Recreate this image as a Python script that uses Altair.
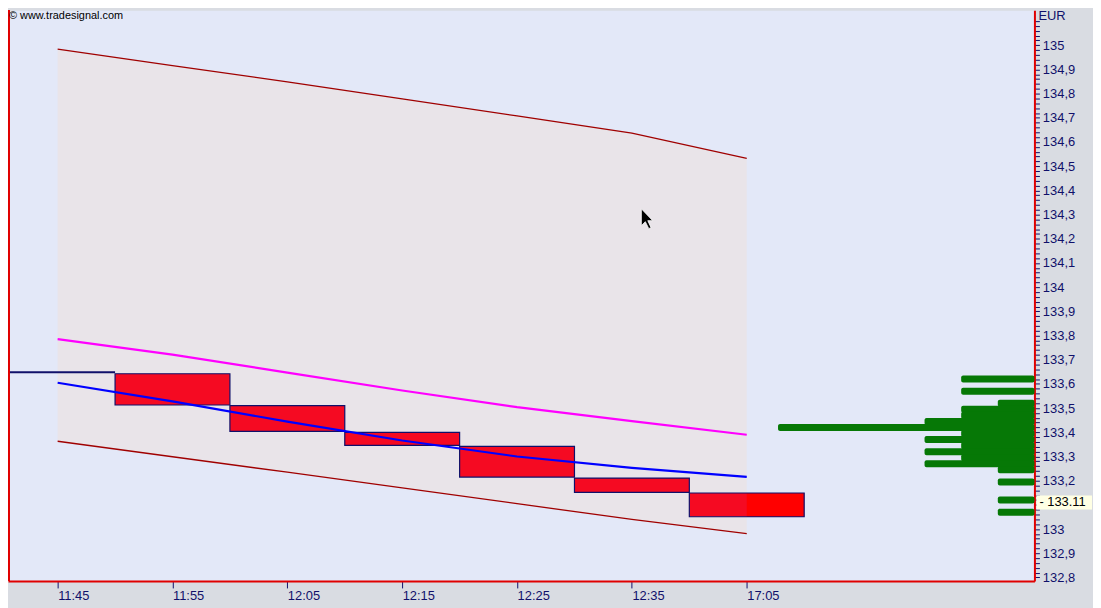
import json
import altair as alt
import pandas as pd

# ---------------- data ----------------
time_labels = ["11:45", "11:55", "12:05", "12:15", "12:25", "12:35", "17:05"]
bar_idx = [0, 1, 2, 3, 4, 5, 6]

upper_band = [134.984, 134.916, 134.849, 134.778, 134.708, 134.637, 134.532]
lower_band = [133.363, 133.299, 133.235, 133.170, 133.105, 133.040, 132.981]
magenta_line = [133.785, 133.721, 133.647, 133.573, 133.504, 133.446, 133.390]
blue_line = [133.605, 133.528, 133.444, 133.366, 133.300, 133.253, 133.216]

box_open = [133.648, 133.642, 133.510, 133.400, 133.342, 133.211, 133.149]
box_close = [133.648, 133.513, 133.404, 133.346, 133.215, 133.152, 133.051]

vol_price = [133.620, 133.570, 133.520, 133.495, 133.470, 133.445, 133.420,
             133.395, 133.370, 133.345, 133.320, 133.295, 133.270, 133.245,
             133.195, 133.120, 133.070]
vol_units = [2, 2, 1, 2, 2, 3, 7, 2, 3, 2, 3, 2, 3, 1, 1, 1, 1]

last_price = [133.11]
last_label = ["- 133.11"]

cursor_bar = [5.134]
cursor_price = [134.283]

# ---------------- styling ----------------
NAVY = "#10106A"
RED_BORDER = "#E00000"
FONT = "Liberation Sans Narrow, Arial Narrow, Liberation Sans, Arial, sans-serif"
W, H = 1034, 575
X_DOM = [-0.4322, 8.5048]
Y_DOM = [132.7854, 135.1449]
VOL_UNIT = 36.9 / 115.7  # one volume unit in bar-index units

y_ticks = [round(132.80 + 0.02 * k, 2) for k in range(116)]

xs = alt.Scale(domain=X_DOM, nice=False, zero=False)
ys = alt.Scale(domain=Y_DOM, nice=False, zero=False)

xaxis = alt.Axis(
    values=bar_idx,
    labelExpr=json.dumps(time_labels) + "[datum.value]",
    title=None, grid=False,
    domainColor=RED_BORDER, domainWidth=2,
    tickColor=NAVY, tickSize=7, tickWidth=1,
    labelAlign="left", labelBaseline="top", labelPadding=2,
    labelFont=FONT, labelFontSize=13, labelColor=NAVY,
)
yaxis = alt.Axis(
    orient="right", values=y_ticks,
    labelExpr=(
        "(abs(datum.value*10 - round(datum.value*10)) < 0.001 && datum.value < 135.05 "
        f"&& abs(datum.value - {last_price[0]}) > 0.03) "
        "? replace(format(datum.value, '.1~f'), '.', ',') : ''"
    ),
    labelOverlap=False,
    title=None, grid=False,
    domainColor=RED_BORDER, domainWidth=2,
    tickColor=NAVY, tickSize=5, tickWidth=1,
    labelAlign="left", labelBaseline="middle", labelPadding=3,
    labelFont=FONT, labelFontSize=13, labelColor=NAVY,
)


def X(f):
    return alt.X(f, type="quantitative", scale=xs, axis=xaxis)


def Y(f):
    return alt.Y(f, type="quantitative", scale=ys, axis=yaxis)


df = pd.DataFrame({
    "i": bar_idx, "time": time_labels,
    "upper": upper_band, "lower": lower_band,
    "mag": magenta_line, "blue": blue_line,
    "open": box_open, "close": box_close,
})
vol = pd.DataFrame({"p": vol_price, "v": vol_units})
lastdf = pd.DataFrame({"p": last_price, "label": last_label})
curdf = pd.DataFrame({"i": cursor_bar, "p": cursor_price})

base = alt.Chart(df)

band = base.mark_area(color="#E9E4E9", opacity=1).encode(
    x=X("i"), y=Y("upper"), y2="lower")

boxes_src = base.transform_filter("datum.i >= 1").transform_calculate(
    x0="datum.i - 0.5", x1="datum.i + 0.5")
box_fill = boxes_src.mark_rect(fill="#F50A22", strokeWidth=0).encode(
    x=X("x0"), x2="x1", y=Y("open"), y2="close")
last_box = base.transform_filter("datum.i == 6").transform_calculate(
    x0="datum.i", x1="datum.i + 0.5").mark_rect(fill="#FF0000", strokeWidth=0).encode(
    x=X("x0"), x2="x1", y=Y("open"), y2="close")
box_edge = boxes_src.mark_rect(fillOpacity=0, stroke=NAVY, strokeWidth=1.2).encode(
    x=X("x0"), x2="x1", y=Y("open"), y2="close")
flat = base.transform_filter("datum.i == 0").transform_calculate(
    x0="datum.i - 0.5", x1="datum.i + 0.5").mark_rule(color=NAVY, strokeWidth=2).encode(
    x=X("x0"), x2="x1", y=Y("open"))

up_line = base.mark_line(color="#A00000", strokeWidth=1.3).encode(x=X("i"), y=Y("upper"))
lo_line = base.mark_line(color="#A00000", strokeWidth=1.3).encode(x=X("i"), y=Y("lower"))
mag_line = base.mark_line(color="#FF00FF", strokeWidth=2.2).encode(x=X("i"), y=Y("mag"))
blu_line = base.mark_line(color="#0000FF", strokeWidth=2.2).encode(x=X("i"), y=Y("blue"))

volume = alt.Chart(vol).transform_calculate(
    xl=f"{X_DOM[1]} - datum.v * {VOL_UNIT}", xr=f"{X_DOM[1]}",
    y1="datum.p + 0.0145", y2="datum.p - 0.0145",
).mark_rect(color="#067806", cornerRadius=2).encode(
    x=X("xl"), x2="xr", y=Y("y1"), y2="y2")

left_border = alt.Chart(df).mark_rule(color=RED_BORDER, strokeWidth=2).encode(
    x=alt.value(0.5), y=alt.value(0), y2=alt.value(H))

price_box = alt.Chart(lastdf).transform_calculate(
    pt="datum.p + 0.0287", pb="datum.p - 0.0287").mark_rect(
    fill="#FFFFE4", clip=False).encode(
    x=alt.value(1036), x2=alt.value(1092), y=Y("pt"), y2="pb")
price_txt = alt.Chart(lastdf).mark_text(
    align="left", baseline="middle", font=FONT, fontSize=13, color="#000000").encode(
    x=alt.value(1039), y=Y("p"), text="label:N")

eur = alt.Chart(lastdf).mark_text(
    align="left", baseline="top", font=FONT, fontSize=13, color=NAVY, text="EUR").encode(
    x=alt.value(1038), y=alt.value(0))
logo = alt.Chart(lastdf).mark_text(
    align="left", baseline="top", font="Liberation Sans, Arial, sans-serif",
    fontSize=11, color="#000000", text="\u00a9 www.tradesignal.com").encode(
    x=alt.value(1), y=alt.value(0))

cursor_path = "M-0.6,-1 L-0.6,0.7 L-0.2,0.3 L0.15,1 L0.38,0.9 L0.05,0.2 L0.55,0.2 Z"
cursor = alt.Chart(curdf).mark_point(
    shape=cursor_path, size=400, filled=True, fill="#000000", stroke="#FFFFFF",
    strokeWidth=0.8, opacity=1).encode(x=X("i"), y=Y("p"))

chart = alt.layer(
    band, box_fill, last_box, box_edge, flat,
    up_line, lo_line, mag_line, blu_line,
    volume, left_border, price_box, price_txt, eur, logo, cursor,
).properties(
    width=W, height=H,
    background="#D9DCE2",
    padding={"left": 0, "top": 0, "right": 59, "bottom": 25},
    autosize=alt.AutoSizeParams(type="none"),
).configure_view(fill="#E3E8F8", strokeOpacity=0)

chart.save("out.html", embed_options={"renderer": "svg", "actions": False})
